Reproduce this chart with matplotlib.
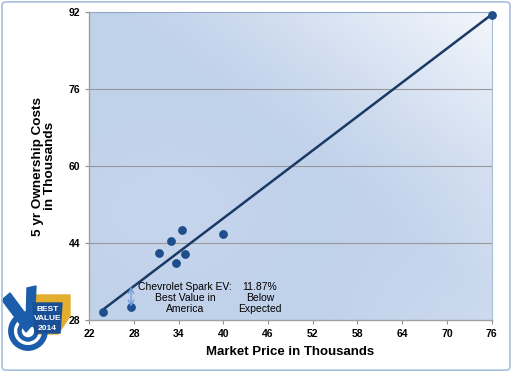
import numpy as np
import matplotlib
matplotlib.use("Agg")
import matplotlib.pyplot as plt
from matplotlib.patches import FancyBboxPatch, Polygon, Circle
from matplotlib.colors import to_rgb

# Data
market_price = [23.9, 27.6, 31.4, 32.9, 34.5, 33.7, 34.8, 40.0, 76.0]
ownership_cost = [29.8, 30.8, 42.0, 44.5, 46.7, 39.9, 41.7, 46.0, 91.5]
trend_x = [23.9, 76.0]
trend_y = [30.3, 91.5]
x_ticks = [22, 28, 34, 40, 46, 52, 58, 64, 70, 76]
y_ticks = [28, 44, 60, 76, 92]
spark_x = 27.6
spark_y = [30.8, 35.0]
note_left = "Chevrolet Spark EV:\nBest Value in\nAmerica"
note_right = "11.87%\nBelow\nExpected"

plt.rcParams['font.family'] = ['Liberation Sans', 'DejaVu Sans']

fig = plt.figure(figsize=(5.12, 3.72), dpi=100)
fig.patch.set_facecolor('white')
fig.patches.append(FancyBboxPatch((0.004, 0.005), 0.992, 0.99, boxstyle="round,pad=0,rounding_size=0.008",
                                  transform=fig.transFigure, facecolor='none', edgecolor='#a8c0de', lw=1.2, zorder=10))

ax = fig.add_axes([0.1745, 0.139, 0.7855, 0.828])
xmin, xmax, ymin, ymax = 22, 76, 28, 92

# gradient background
nx, ny = 200, 150
gx, gy = np.meshgrid(np.linspace(0, 1, nx), np.linspace(0, 1, ny))
blue = np.array(to_rgb('#c0d1ea'))
white = np.array(to_rgb('#f4f7fc'))
w = np.clip((gx + gy - 1.05) / 0.95, 0, 1) ** 1.2
w2 = 0.25 * np.clip((gx - 0.55) / 0.45, 0, 1) * np.clip((0.5 - gy) / 0.5, 0, 1)
w3 = 0.12 * np.exp(-((gx - 0.2) ** 2 + (gy - 0.35) ** 2) / 0.05)
wt = np.clip(w + w2 + w3, 0, 1)
img = blue[None, None, :] * (1 - wt[..., None]) + white[None, None, :] * wt[..., None]
ax.imshow(img, extent=[xmin, xmax, ymin, ymax], origin='lower', aspect='auto', zorder=0, interpolation='bilinear')

ax.set_xlim(xmin, xmax)
ax.set_ylim(ymin, ymax)
ax.set_xticks(x_ticks)
ax.set_yticks(y_ticks)
ax.tick_params(axis='both', labelsize=7.5, colors='#909090', labelcolor='black', length=3, width=0.8)
for lbl in ax.get_xticklabels() + ax.get_yticklabels():
    lbl.set_fontweight('bold')
for yv in y_ticks[1:-1]:
    ax.axhline(yv, color='#999999', lw=0.8, zorder=1)

for s in ['left', 'bottom']:
    ax.spines[s].set_color('#a0a0a0')
    ax.spines[s].set_linewidth(1.0)
ax.spines['top'].set_color('#8fa8c8')
ax.spines['top'].set_linewidth(0.8)
ax.spines['right'].set_color('#a8bfdc')
ax.spines['right'].set_linewidth(0.8)

ax.plot(trend_x, trend_y, color='#1a3a66', lw=1.8, zorder=3, solid_capstyle='round')
ax.scatter(market_price, ownership_cost, s=28, color='#1f4e8c', zorder=4, edgecolors='#1f4e8c', clip_on=False)

ax.annotate('', xy=(spark_x, spark_y[1]), xytext=(spark_x, spark_y[0]),
            arrowprops=dict(arrowstyle='<->', color='#6a9bd8', lw=0.9, shrinkA=0, shrinkB=0), zorder=5)
ax.text(34.85, 32.6, note_left, ha='center', va='center', fontsize=7.5, linespacing=1.15, zorder=5)
ax.text(44.9, 32.6, note_right, ha='center', va='center', fontsize=7.5, linespacing=1.15, zorder=5)

ax.set_xlabel('Market Price in Thousands', fontsize=9.5, fontweight='bold', labelpad=5)
ax.set_ylabel('5 yr Ownership Costs\nin Thousands', fontsize=9.7, fontweight='bold', labelpad=9, linespacing=1.05)

# logo (axes in pixel units)
lax = fig.add_axes([0.0, 1 - 356 / 372, 76 / 512, 72 / 372])
lax.set_xlim(0, 76)
lax.set_ylim(356, 284)
lax.axis('off')
blue_logo = '#1b5cab'
lax.add_patch(Polygon([[36, 295], [70, 295], [70, 316], [58, 334], [38, 334]], closed=True,
                      color='#e3ad2e', zorder=1))
lax.add_patch(Circle((28, 331), 17, fill=False, lw=4.2, ec=blue_logo, zorder=2))
lax.add_patch(Circle((28, 331), 8.5, fill=False, lw=3.2, ec=blue_logo, zorder=2))
lax.add_patch(Polygon([[2, 300], [10, 293], [33, 324], [26, 332]], closed=True, color=blue_logo, zorder=3))
lax.add_patch(Polygon([[27, 288], [36, 286], [34, 326], [26, 327]], closed=True, color=blue_logo, zorder=3))
lax.add_patch(Polygon([[33, 303], [62, 303], [60, 333], [35, 333]], closed=True, color='#1a4f96', zorder=4))
lax.text(47.5, 309, 'BEST', color='white', fontsize=6, fontweight='bold', ha='center', va='center', zorder=5)
lax.text(47.5, 318, 'VALUE', color='white', fontsize=6, fontweight='bold', ha='center', va='center', zorder=5)
lax.text(47.5, 328, '2014', color='white', fontsize=6, fontweight='bold', ha='center', va='center', zorder=5)

fig.savefig('out.png', dpi=100)
